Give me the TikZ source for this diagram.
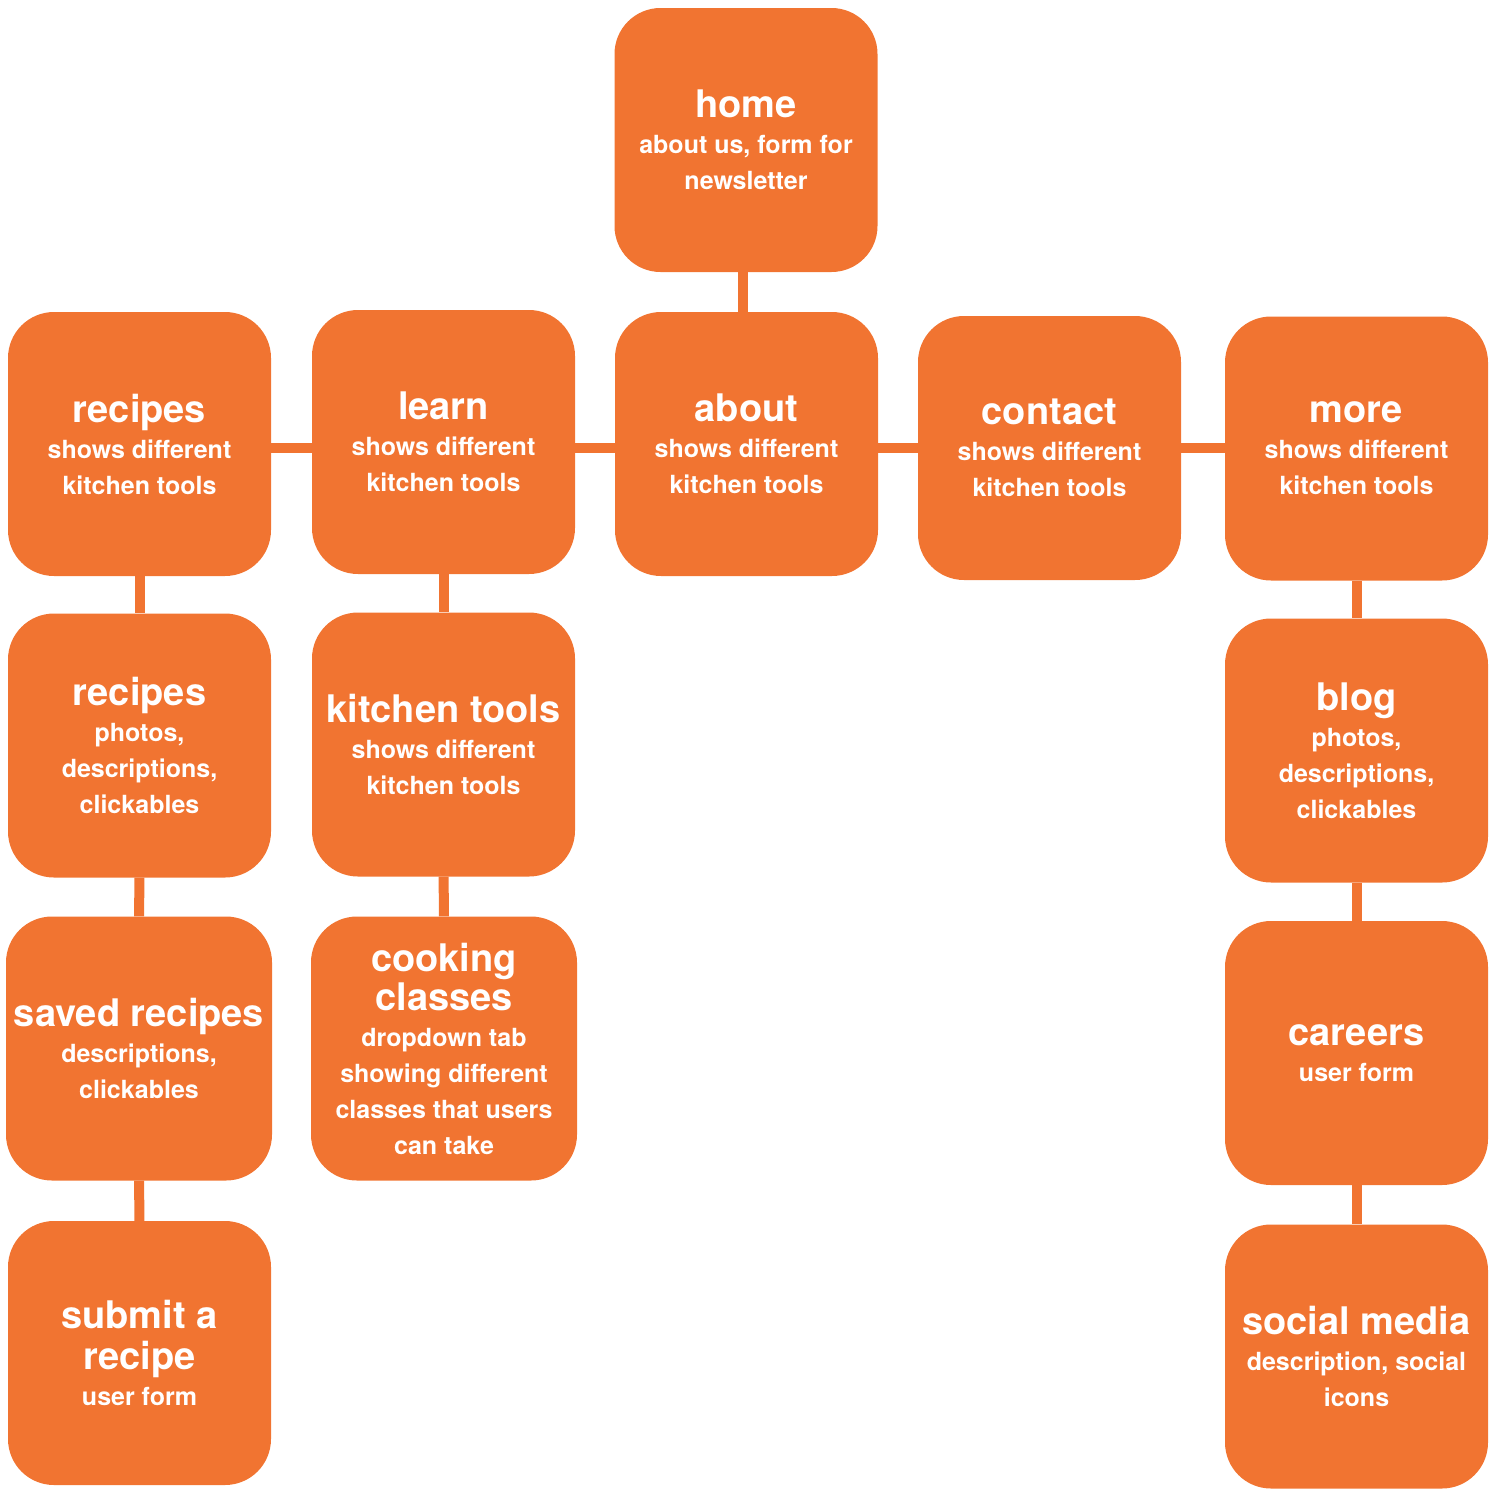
\documentclass[tikz,border=0pt]{standalone}
\usepackage{fontspec}
\setmainfont{TeX Gyre Heros}
\usetikzlibrary{positioning}
\definecolor{Carrot}{HTML}{F17431}
\newcommand{\pagetitle}[1]{{\fontsize{38}{40}\selectfont #1}}

\begin{document}
\begin{tikzpicture}[x=1pt,y=-1pt,
      page/.style={rounded corners=46pt,fill=Carrot,text=white,
                   font=\bfseries\fontsize{25}{36}\selectfont,align=center,
                   minimum width=263pt,minimum height=264pt,inner sep=0pt},
      link/.style={draw=Carrot,line width=10pt}]
    \useasboundingbox (0,0) rectangle (1500,1500);

    % top level
    \node[page] (home) at (746,140)
      {\pagetitle{home}\\ about us, form for\\ newsletter};

    % main menu
    \foreach \n/\t/\x/\y in {recipes/recipes/139.5/444,learn/learn/443.5/442,
        about/about/746.5/444,contact/contact/1049.5/448,more/more/1356.5/448.5}{%
      \node[page] (\n) at (\x,\y) {\pagetitle{\t}\\ shows different\\ kitchen tools};
    }
    \coordinate (rail) at (743,448);

    % sub pages
    \node[page] (gallery) at (139.5,745.5)
      {\pagetitle{recipes}\\ photos,\\ descriptions,\\ clickables};
    \node[page,minimum width=266pt] (saved) at (139,1048.5)
      {\pagetitle{saved recipes}\\ descriptions,\\ clickables};
    \node[page] (submit) at (139.5,1353)
      {\pagetitle{submit a}\\[5pt] \pagetitle{recipe}\\ user form};
    \node[page] (tools) at (443.5,744.5)
      {\pagetitle{kitchen tools}\\ shows different\\ kitchen tools};
    \node[page,minimum width=266pt] (classes) at (444,1048.5)
      {\pagetitle{cooking}\\[3pt] \pagetitle{classes}\\ dropdown tab\\ showing different\\
       classes that users\\ can take};
    \node[page] (blog) at (1356.5,750.5)
      {\pagetitle{blog}\\ photos,\\ descriptions,\\ clickables};
    \node[page] (careers) at (1356.5,1053)
      {\pagetitle{careers}\\ user form};
    \node[page] (social) at (1356.5,1356.5)
      {\pagetitle{social media}\\ description, social\\ icons};

    % connectors
    \draw[link] (home.south -| rail) -- (about.north -| rail);
    \draw[link] (recipes.east |- rail) -- (learn.west |- rail);
    \draw[link] (learn.east |- rail) -- (about.west |- rail);
    \draw[link] (about.east |- rail) -- (contact.west |- rail);
    \draw[link] (contact.east |- rail) -- (more.west |- rail);
    \draw[link] (recipes) -- (gallery);
    \draw[link] (gallery) -- (saved);
    \draw[link] (saved) -- (submit);
    \draw[link] (learn) -- (tools);
    \draw[link] (tools) -- (classes);
    \draw[link] (more) -- (blog);
    \draw[link] (blog) -- (careers);
    \draw[link] (careers) -- (social);
  \end{tikzpicture}
\end{document}
